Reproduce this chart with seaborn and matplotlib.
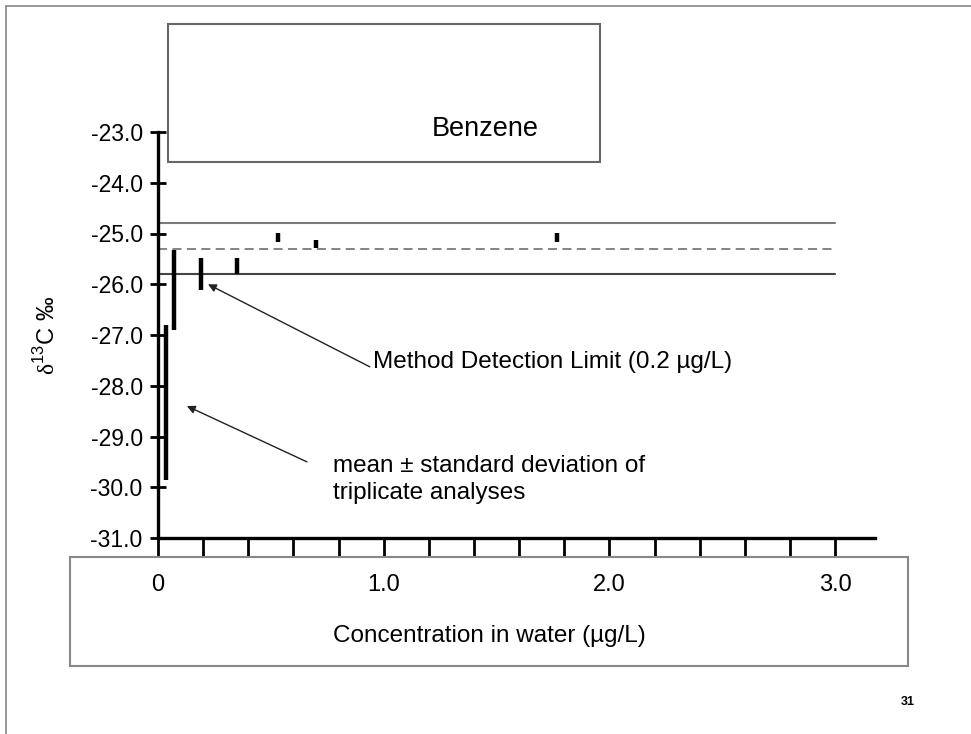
import matplotlib
matplotlib.use("Agg")
import matplotlib.pyplot as plt
from matplotlib.patches import Rectangle
from matplotlib.lines import Line2D
import pandas as pd
import seaborn as sns

# triplicate analyses: concentration (ug/L), mean d13C, standard deviation
conc = [0.035, 0.07, 0.19, 0.35, 0.53, 0.70, 1.77]
d13c_mean = [-28.33, -26.11, -25.80, -25.64, -25.08, -25.21, -25.08]
d13c_sd = [1.53, 0.79, 0.32, 0.16, 0.09, 0.08, 0.09]

# reference band (pure-phase value +/- 0.5 permil)
ref_x = [0.0, 3.0]
ref_mid = -25.30
ref_upper = -24.79
ref_lower = -25.80

x_ticks = [0, 0.2, 0.4, 0.6, 0.8, 1.0, 1.2, 1.4, 1.6, 1.8, 2.0, 2.2, 2.4, 2.6, 2.8, 3.0]
x_labels = ["0", "", "", "", "", "1.0", "", "", "", "", "2.0", "", "", "", "", "3.0"]
y_ticks = [-31, -30, -29, -28, -27, -26, -25, -24, -23]

sns.set_theme(style="white")
plt.rcParams["font.family"] = ["Liberation Sans", "DejaVu Sans"]
plt.rcParams["text.color"] = "black"
plt.rcParams["mathtext.fontset"] = "custom"
plt.rcParams["mathtext.rm"] = "Liberation Serif"
plt.rcParams["mathtext.sf"] = "Liberation Sans"

W, H = 971, 734
fig = plt.figure(figsize=(W / 100, H / 100), dpi=100)
ax = fig.add_axes([158 / W, 1 - 538 / H, 717 / W, 406 / H])
ax.set_facecolor("none")

ref_df = pd.DataFrame({
    "x": ref_x * 3,
    "y": [ref_upper] * 2 + [ref_mid] * 2 + [ref_lower] * 2,
    "line": ["upper"] * 2 + ["mid"] * 2 + ["lower"] * 2,
})
sns.lineplot(data=ref_df[ref_df["line"] == "upper"], x="x", y="y", color="#7a7a7a", lw=1.5, ax=ax)
sns.lineplot(data=ref_df[ref_df["line"] == "mid"], x="x", y="y", color="#7a7a7a", lw=1.3,
             linestyle=(0, (5, 3)), ax=ax)
sns.lineplot(data=ref_df[ref_df["line"] == "lower"], x="x", y="y", color="#444444", lw=1.5, ax=ax)

lo = [m - s for m, s in zip(d13c_mean, d13c_sd)]
hi = [m + s for m, s in zip(d13c_mean, d13c_sd)]
ax.vlines(conc, lo, hi, colors="black", lw=3.2)

ax.set_xlim(0, 717 / 225.7)
ax.set_ylim(-31, -23)
ax.set_xticks(x_ticks)
ax.set_xticklabels(x_labels)
ax.set_yticks(y_ticks)
ax.set_yticklabels([f"{v:.1f}" for v in y_ticks])
ax.tick_params(axis="x", direction="out", length=14, width=2, pad=12, labelsize=17, colors="black")
ax.tick_params(axis="y", direction="inout", length=12, width=2, pad=5, labelsize=16.5, colors="black")
ax.tick_params(bottom=True, left=True)
for side in ["top", "right"]:
    ax.spines[side].set_visible(False)
for side in ["left", "bottom"]:
    ax.spines[side].set_linewidth(2.4)
    ax.spines[side].set_color("black")
ax.set_xlabel("")
ax.set_ylabel(r"$\mathrm{\delta}^{\mathsf{13}}$C ‰", fontsize=17, color="black")
ax.yaxis.set_label_coords(-98 / 717, 0.5)

ax.annotate("Method Detection Limit (0.2 µg/L)", xy=(0.2215, -26.0), xytext=(0.953, -27.53),
            fontsize=17.5, va="center", ha="left",
            arrowprops=dict(arrowstyle="-|>", color="#222222", lw=1, mutation_scale=12,
                            shrinkA=0, shrinkB=0, relpos=(0, 0.2)))
ax.annotate("", xy=(0.128, -28.40), xytext=(0.660, -29.50),
            arrowprops=dict(arrowstyle="-|>", color="#222222", lw=1, mutation_scale=12,
                            shrinkA=0, shrinkB=0))
ax.text(0.775, -29.84, "mean ± standard deviation of\ntriplicate analyses", fontsize=17.5,
        va="center", ha="left", linespacing=1.3)

# slide decorations
def fig_rect(x0, y0, x1, y1, **kw):
    fig.patches.append(Rectangle((x0 / W, 1 - y1 / H), (x1 - x0) / W, (y1 - y0) / H,
                                 transform=fig.transFigure, fill=False, **kw))

fig_rect(168, 24, 600, 162, edgecolor="#666666", lw=1.5)
fig_rect(70, 557, 908, 666, edgecolor="#888888", lw=1.5)
fig.lines.append(Line2D([6 / W, 1], [1 - 6 / H, 1 - 6 / H], transform=fig.transFigure, color="#888888", lw=1.2))
fig.lines.append(Line2D([6 / W, 6 / W], [1 - 6 / H, 0], transform=fig.transFigure, color="#888888", lw=1.2))

fig.text(485 / W, 1 - 129 / H, "Benzene", fontsize=19.5, ha="center", va="center")
fig.text(489 / W, 1 - 636 / H, "Concentration in water (µg/L)", fontsize=17.5, ha="center", va="center")
fig.text(908 / W, 1 - 702 / H, "31", fontsize=9, fontweight="bold", ha="center", va="center")

fig.savefig("out.png", dpi=100)
